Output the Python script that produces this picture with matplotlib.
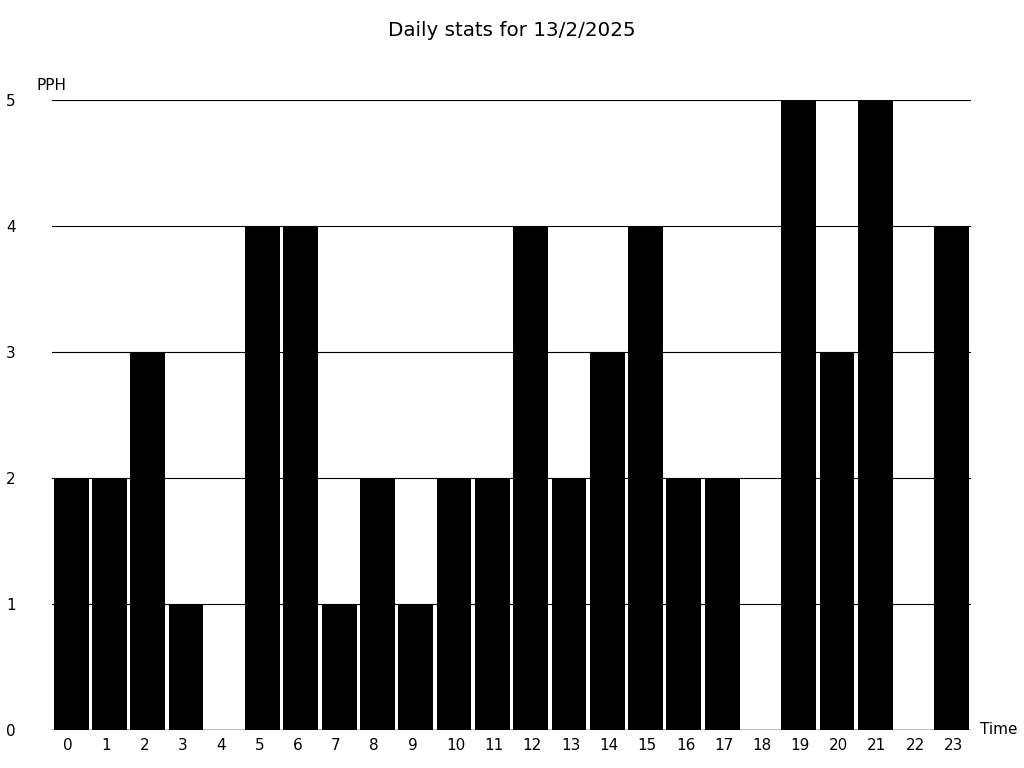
import matplotlib.pyplot as plt
import matplotlib.transforms as mtransforms

hours = list(range(24))
pph = [2, 2, 3, 1, 0, 4, 4, 1, 2, 1, 2, 2, 4, 2, 3, 4, 2, 2, 0, 5, 3, 5, 0, 4]
title = "Daily stats for 13/2/2025"

fig = plt.figure(figsize=(10.24, 7.68), dpi=100)
ax = fig.add_axes([52 / 1024, 1 - 730 / 768, 919 / 1024, 630 / 768])

ax.bar(hours, pph, width=0.91, color="black", zorder=2)
ax.set_xlim(-0.5, 23.5)
ax.set_ylim(0, 5)

for s in ax.spines.values():
    s.set_visible(False)
ax.axhline(0, color="black", lw=1, zorder=3)
ax.set_yticks(range(6))
ax.yaxis.grid(True, color="black", lw=0.8, zorder=1)
ax.tick_params(axis="both", length=0, labelsize=11)
ax.tick_params(axis="y", pad=26)
ax.tick_params(axis="x", pad=6)

ax.set_xticks(hours)
ax.set_xticklabels([str(h) for h in hours])
shift = mtransforms.ScaledTranslation(-8 / 100, 0, fig.dpi_scale_trans)
for lbl in ax.get_xticklabels():
    lbl.set_horizontalalignment("left")
    lbl.set_transform(lbl.get_transform() + shift)

fig.text(37 / 1024, 1 - 85 / 768, "PPH", fontsize=11, va="center", ha="left")
fig.text(980 / 1024, 1 - 730 / 768, "Time", fontsize=11, va="center", ha="left")
fig.text(0.5, 1 - 30 / 768, title, fontsize=14.3, ha="center", va="center")

fig.savefig("out.png", dpi=100)
